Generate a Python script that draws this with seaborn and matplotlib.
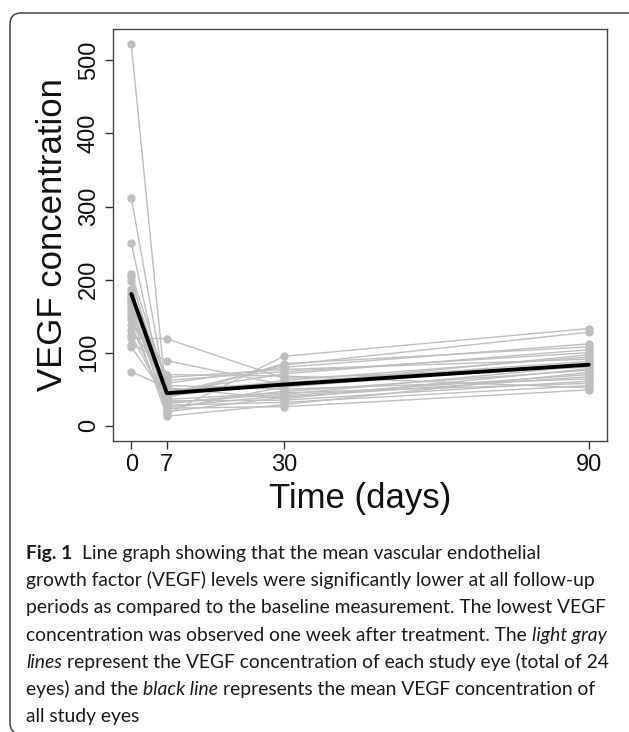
import numpy as np
import pandas as pd
import seaborn as sns
import matplotlib.pyplot as plt
from matplotlib.patches import FancyBboxPatch

# ---------------- data ----------------
days = [0, 7, 30, 90]
day0 = [522, 312, 250, 208, 204, 198, 187, 182, 178, 174, 170, 166,
        162, 158, 154, 150, 146, 138, 131, 124, 120, 111, 108, 74]
day7 = [30, 40, 26, 58, 22, 46, 36, 62, 16, 34, 49, 19,
        70, 28, 43, 13, 55, 24, 66, 32, 119, 89, 38, 52]
day30 = [47, 62, 41, 80, 53, 71, 45, 74, 95, 35, 59, 39,
         68, 32, 83, 29, 50, 26, 77, 43, 65, 56, 85, 37]
day90 = [76, 94, 70, 112, 85, 104, 58, 100, 133, 61, 88, 67,
         52, 55, 128, 73, 64, 49, 91, 82, 80, 97, 108, 78]
yticks = [0, 100, 200, 300, 400, 500]
x_label = "Time (days)"
y_label = "VEGF concentration"

caption_lines = [
    [("Fig. 1", "bold"), ("  Line graph showing that the mean vascular endothelial", "normal")],
    [("growth factor (VEGF) levels were significantly lower at all follow-up", "normal")],
    [("periods as compared to the baseline measurement. The lowest VEGF", "normal")],
    [("concentration was observed one week after treatment. The ", "normal"), ("light gray", "italic")],
    [("lines", "italic"), (" represent the VEGF concentration of each study eye (total of 24", "normal")],
    [("eyes) and the ", "normal"), ("black line", "italic"), (" represents the mean VEGF concentration of", "normal")],
    [("all study eyes", "normal")],
]

rows = []
for i in range(len(day0)):
    for d, v in zip(days, [day0[i], day7[i], day30[i], day90[i]]):
        rows.append({"eye": i, "day": d, "value": v})
df = pd.DataFrame(rows)

# ---------------- figure ----------------
sns.set_theme(style="white")
plt.rcParams["font.family"] = ["Liberation Sans", "DejaVu Sans"]

W, H = 629, 732
fig = plt.figure(figsize=(W / 100, H / 100), dpi=100)
ax = fig.add_axes([113 / W, 1 - 441 / H, (607 - 113) / W, (441 - 29) / H])

sns.lineplot(data=df, x="day", y="value", units="eye", estimator=None,
             color="#BEBEBE", lw=1.0, marker="o", markersize=6,
             markeredgewidth=0, markerfacecolor="#BEBEBE", legend=False, ax=ax)
sns.lineplot(data=df, x="day", y="value", estimator="mean", errorbar=None,
             color="black", lw=2.8, legend=False, ax=ax)

ax.set_xlim(-3.6, 93.6)
ax.set_ylim(-20.9, 542.9)
ax.set_xticks(days)
ax.set_yticks(yticks)
ax.set_xticklabels([str(d) for d in days], fontsize=17)
ax.set_yticklabels([str(v) for v in yticks], fontsize=17)
for lab in ax.get_yticklabels():
    lab.set_rotation(90)
    lab.set_va("center")
    lab.set_ha("right")
ax.tick_params(axis="both", direction="out", length=5.5, width=1.0,
               color="#333333", labelcolor="#111111", pad=4,
               left=True, bottom=True)
for sp in ax.spines.values():
    sp.set_visible(True)
    sp.set_color("#444444")
    sp.set_linewidth(1.0)
ax.set_xlabel(x_label, fontsize=25, color="#111111", labelpad=4)
ax.set_ylabel(y_label, fontsize=25, color="#111111", labelpad=6)
ax.grid(False)

# ---------------- outer frame ----------------
frame = FancyBboxPatch((10, -2), 680, H - 13 + 2, boxstyle="round,pad=0,rounding_size=11",
                       transform=None, fill=False, edgecolor="#333333", lw=1.0)
fig.patches.append(frame)

# ---------------- caption ----------------
cap_font = ["Lato", "DejaVu Sans"]
renderer = fig.canvas.get_renderer()


def text_width(s, fs, weight="normal", style="normal"):
    t = fig.text(0, 0, s, fontsize=fs, family=cap_font, weight=weight, style=style)
    w = t.get_window_extent(renderer=renderer).width
    t.remove()
    return w


base_fs = 12.0
w_line2 = text_width(caption_lines[1][0][0], base_fs)
cap_fs = base_fs * 568.0 / w_line2


def seg_width(s, kind):
    weight = "bold" if kind == "bold" else "normal"
    style = "italic" if kind == "italic" else "normal"
    sw = text_width("x x", cap_fs, weight, style) - text_width("xx", cap_fs, weight, style)
    core = s.strip(" ")
    lead = len(s) - len(s.lstrip(" "))
    trail = len(s) - len(s.rstrip(" "))
    return core, lead * sw, text_width(core, cap_fs, weight, style) if core else 0.0, trail * sw, weight, style


y0 = 559
for i, segs in enumerate(caption_lines):
    x = 26.0
    yb = y0 + 27.2 * i
    for s, kind in segs:
        core, lw_, cw, tw, weight, style = seg_width(s, kind)
        x += lw_
        fig.text(x / W, 1 - yb / H, core, fontsize=cap_fs, family=cap_font,
                 weight=weight, style=style, va="baseline", ha="left", color="#1a1a1a")
        x += cw + tw

fig.savefig("out.png", dpi=100)
